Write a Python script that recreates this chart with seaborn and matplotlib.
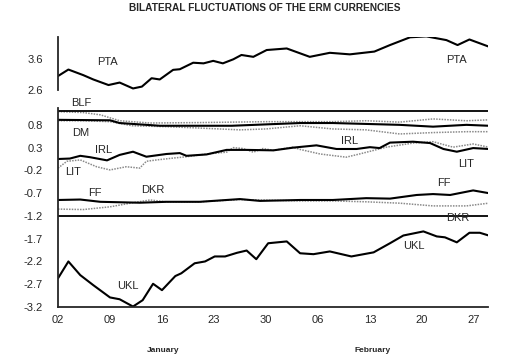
import matplotlib
matplotlib.use("Agg")
import matplotlib.pyplot as plt
import seaborn as sns

sns.set_style("white")
plt.rcParams['font.family'] = ['Liberation Sans', 'DejaVu Sans']

# ---------------- data (days since 02 January) ----------------
pta_days = [0, 1.4, 3.4, 4.75, 6.8, 8.3, 10.1, 11.3, 12.6, 13.7, 15.5, 16.4, 18.2, 19.6,
            20.9, 22.2, 23.6, 24.7, 26.3, 28.1, 30.8, 33.9, 36.6, 39.3, 42.6, 44.7,
            47.4, 49.6, 52.3, 53.8, 55.4, 58]
pta_vals = [3.05, 3.26, 3.08, 2.94, 2.76, 2.84, 2.65, 2.71, 2.98, 2.94, 3.25, 3.27, 3.48, 3.46,
            3.54, 3.46, 3.59, 3.73, 3.67, 3.89, 3.94, 3.67, 3.80, 3.75, 3.84, 4.05,
            4.30, 4.33, 4.21, 4.05, 4.23, 4.00]

blf_days = [0, 3.4, 5.7, 8.3, 12.4, 19.1, 28.1, 37, 41.5, 46, 50.5, 55, 58]
blf_vals = [1.09, 1.07, 1.02, 0.89, 0.84, 0.85, 0.87, 0.87, 0.89, 0.86, 0.93, 0.89, 0.91]

dm_days = [0, 7, 8.3, 13.7, 23.4, 32.6, 37, 46, 50.5, 55, 58]
dm_vals = [0.91, 0.90, 0.84, 0.78, 0.78, 0.84, 0.84, 0.80, 0.76, 0.80, 0.78]

other_days = [0, 3.4, 7, 10, 14.6, 19, 24.5, 28, 32.6, 37, 41.5, 46, 50.5, 55, 58]
other_vals = [0.89, 0.89, 0.87, 0.78, 0.76, 0.73, 0.69, 0.71, 0.78, 0.71, 0.69, 0.60, 0.63, 0.65, 0.65]

irl_days = [0, 1.6, 3.0, 4.3, 6.6, 8.3, 10.1, 11.9, 14.6, 16.4, 17.3, 20, 22.7, 25.4, 29,
            31.7, 34.8, 37.5, 40.2, 42, 43.3, 44.7, 47.8, 50.1, 51.9, 53.7, 55.9, 58]
irl_vals = [0.05, 0.06, 0.12, 0.09, 0.02, 0.14, 0.21, 0.10, 0.16, 0.18, 0.12, 0.15, 0.25, 0.25, 0.24,
            0.30, 0.35, 0.27, 0.27, 0.31, 0.29, 0.41, 0.43, 0.40, 0.27, 0.21, 0.29, 0.27]

lit_days = [0, 1.2, 3.0, 5.2, 7.0, 9.2, 11.0, 11.9, 13.3, 15.5, 17.3, 20, 22.7, 23.6, 24.9,
            26.3, 27.6, 29, 31.6, 32.6, 35.3, 38.8, 40.6, 44.2, 47.8, 50.5, 53.2, 55.9, 58]
lit_vals = [-0.15, 0.0, 0.03, -0.12, -0.19, -0.12, -0.15, 0.0, 0.03, 0.07, 0.10, 0.16, 0.20, 0.30, 0.28,
            0.20, 0.28, 0.24, 0.31, 0.26, 0.16, 0.09, 0.16, 0.31, 0.40, 0.43, 0.31, 0.38, 0.31]

ff_days = [0, 3, 5.7, 11, 14.6, 19.1, 24.5, 27.2, 32.6, 37, 41.5, 44.7, 48.3, 50.5, 52.8, 55.9, 58]
ff_vals = [-0.85, -0.84, -0.89, -0.91, -0.89, -0.89, -0.83, -0.87, -0.85, -0.85, -0.81, -0.82,
           -0.74, -0.72, -0.74, -0.64, -0.70]

dkr_days = [0, 3.4, 7, 10.1, 12.4, 14.6, 19.1, 24.5, 32.6, 37, 41.5, 46, 50.5, 55, 58]
dkr_vals = [-1.05, -1.06, -1.00, -0.91, -0.85, -0.89, -0.89, -0.84, -0.87, -0.87, -0.89, -0.92,
            -0.98, -0.98, -0.92]

ukl_days = [0, 1.4, 3.0, 4.75, 7.0, 8.3, 10.1, 11.4, 12.8, 14.0, 15.8, 16.6, 18.4, 19.8, 21.1,
            22.5, 24.1, 25.4, 26.7, 28.3, 30.8, 32.6, 34.4, 36.6, 39.5, 42.5, 44.7, 46.5,
            49.2, 51.0, 52.1, 53.7, 55.4, 56.8, 58]
ukl_vals = [-2.57, -2.20, -2.50, -2.72, -2.99, -3.03, -3.19, -3.05, -2.69, -2.83, -2.52, -2.46,
            -2.24, -2.20, -2.09, -2.09, -2.01, -1.96, -2.15, -1.80, -1.76, -2.02, -2.04, -1.98,
            -2.09, -2.00, -1.80, -1.63, -1.54, -1.65, -1.67, -1.78, -1.57, -1.57, -1.63]

band_top = 1.11
band_bottom = -1.2

x_tick_days = [0, 7, 14, 21, 28, 35, 42, 49, 56]
x_tick_labels = ["02", "09", "16", "23", "30", "06", "13", "20", "27"]
top_ticks = [2.6, 3.6]
main_ticks = [0.8, 0.3, -0.2, -0.7, -1.2, -1.7, -2.2, -2.7, -3.2]

# ---------------- figure ----------------
fig = plt.figure(figsize=(5.24, 3.61), dpi=100)
ax_top = fig.add_axes([58/524, 1-90/361, 430/524, 53/361])
ax = fig.add_axes([58/524, 1-307/361, 430/524, 199/361])

thick = dict(color="black", lw=1.5, estimator=None, solid_joinstyle="round", solid_capstyle="round")
dotted = dict(color="#8a8a8a", lw=1.1, estimator=None, linestyle=(0, (1, 0.8)))

sns.lineplot(x=pta_days, y=pta_vals, ax=ax_top, **thick)

sns.lineplot(x=blf_days, y=blf_vals, ax=ax, **dotted)
sns.lineplot(x=other_days, y=other_vals, ax=ax, **dotted)
sns.lineplot(x=dm_days, y=dm_vals, ax=ax, **thick)
sns.lineplot(x=lit_days, y=lit_vals, ax=ax, **dotted)
sns.lineplot(x=irl_days, y=irl_vals, ax=ax, **thick)
sns.lineplot(x=dkr_days, y=dkr_vals, ax=ax, **dotted)
sns.lineplot(x=ff_days, y=ff_vals, ax=ax, **thick)
sns.lineplot(x=ukl_days, y=ukl_vals, ax=ax, **thick)

ax.axhline(band_top, color="black", lw=1.3)
ax.axhline(band_bottom, color="black", lw=1.3)

xmax = 57.9
for a in (ax_top, ax):
    a.set_xlim(0, xmax)
    for s in ("top", "right"):
        a.spines[s].set_visible(False)
    a.spines["left"].set_linewidth(1.3)
    a.set_xlabel("")
    a.set_ylabel("")

ax_top.set_ylim(2.6, 4.31)
ax_top.spines["bottom"].set_visible(False)
ax_top.set_xticks([])
ax_top.set_yticks(top_ticks)
ax_top.set_yticklabels([f"{v:.1f}" for v in top_ticks])
ax_top.tick_params(axis="y", direction="inout", length=6, width=1, labelsize=8, pad=8)

ax.set_ylim(-3.2, 1.17)
ax.spines["bottom"].set_linewidth(1.3)
ax.set_yticks(main_ticks)
ax.set_yticklabels([f"{v:.1f}" for v in main_ticks])
ax.tick_params(axis="y", direction="inout", length=6, width=1, labelsize=8, pad=8)
ax.set_xticks(x_tick_days)
ax.set_xticklabels(x_tick_labels)
ax.set_xticks(list(range(0, 58)), minor=True)
ax.tick_params(axis="x", which="both", direction="out", length=3, width=1, labelsize=8, pad=3)

lab = dict(fontsize=8, ha="center", va="center", clip_on=False)
ax_top.text(6.7, 3.5, "PTA", **lab)
ax_top.text(53.7, 3.57, "PTA", **lab)
ax.text(3.1, 1.28, "BLF", **lab)
ax.text(3.1, 0.62, "DM", **lab)
ax.text(6.1, 0.25, "IRL", **lab)
ax.text(39.3, 0.45, "IRL", **lab)
ax.text(2.0, -0.23, "LIT", **lab)
ax.text(54.9, -0.06, "LIT", **lab)
ax.text(5.0, -0.69, "FF", **lab)
ax.text(52.0, -0.47, "FF", **lab)
ax.text(12.7, -0.63, "DKR", **lab)
ax.text(53.8, -1.24, "DKR", **lab)
ax.text(9.4, -2.74, "UKL", **lab)
ax.text(47.9, -1.86, "UKL", **lab)

fig.text(265/524, 1-8/361, "BILATERAL FLUCTUATIONS OF THE ERM CURRENCIES",
         ha="center", va="center", fontsize=7.3, fontweight="bold")
fig.text(163/524, 1-350/361, "January", ha="center", va="center", fontsize=6, fontweight="bold")
fig.text(373/524, 1-350/361, "February", ha="center", va="center", fontsize=6, fontweight="bold")

fig.savefig("out.png", dpi=100, facecolor="white")
